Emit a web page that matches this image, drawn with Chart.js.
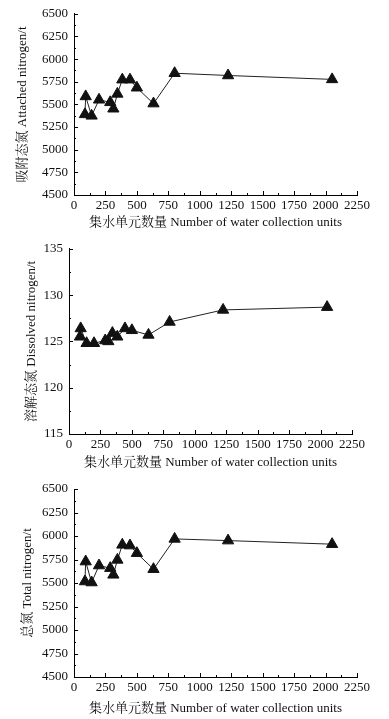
<!DOCTYPE html>
<html>
<head>
<meta charset="utf-8">
<script src="https://cdn.jsdelivr.net/npm/chart.js@4"></script>
<style>
  html, body { margin: 0; padding: 0; background: #fff; }
  canvas { display: block; }
</style>
</head>
<body>
<canvas id="c1" width="389" height="235"></canvas>
<canvas id="c2" width="389" height="240"></canvas>
<canvas id="c3" width="389" height="244"></canvas>
<script>
// number of water collection units (x)
const units = [87, 93, 140, 199, 288, 313, 345, 384, 445, 500, 632, 800, 1225, 2052];
// nitrogen loads, t
const attached = [5390, 5588, 5374, 5551, 5523, 5452, 5616, 5773, 5773, 5684, 5509, 5844, 5819, 5776];
const dissolved = [125.5, 126.4, 124.8, 124.8, 125.1, 125.0, 125.9, 125.5, 126.4, 126.2, 125.7, 127.1, 128.4, 128.7];
const total = [5516, 5728, 5505, 5686, 5658, 5587, 5746, 5906, 5898, 5817, 5647, 5969, 5951, 5913];

const xTicks = [0, 250, 500, 750, 1000, 1250, 1500, 1750, 2000, 2250];
const nTicks = [4500, 4750, 5000, 5250, 5500, 5750, 6000, 6250, 6500];
const dTicks = [115, 120, 125, 130, 135];

const FONT = "'Liberation Serif', 'Noto Serif CJK SC', 'Noto Sans CJK SC', serif";
const INK = "#111";
const X_TITLE = "集水单元数量 Number of water collection units";

// little inward ticks, major + minor, like the printed figure
const tickMarks = {
    id: "tickMarks",
    afterDraw(chart, args, opts) {
        const ctx = chart.ctx;
        const x = chart.scales.x;
        const y = chart.scales.y;
        ctx.save();
        ctx.strokeStyle = "#000";
        ctx.lineWidth = 1;
        ctx.beginPath();
        for (let v = x.min; v <= x.max + 1e-9; v += opts.xStep / 2) {
            const major = Math.abs(v / opts.xStep - Math.round(v / opts.xStep)) < 1e-6;
            const px = Math.round(x.getPixelForValue(v)) + 0.5;
            ctx.moveTo(px, y.bottom);
            ctx.lineTo(px, y.bottom - (major ? 4 : 2));
        }
        for (let v = y.min; v <= y.max + 1e-9; v += opts.yStep / 2) {
            const major = Math.abs((v - y.min) / opts.yStep - Math.round((v - y.min) / opts.yStep)) < 1e-6;
            const py = Math.round(y.getPixelForValue(v)) + 0.5;
            ctx.moveTo(x.left, py);
            ctx.lineTo(x.left + (major ? 4 : 2), py);
        }
        ctx.stroke();
        ctx.restore();
    }
};

function makeChart(id, values, yTicks, yTitle, box) {
    const ctx = document.getElementById(id).getContext("2d");
    return new Chart(ctx, {
        type: "line",
        data: {
            datasets: [{
                data: units.map((u, i) => ({ x: u, y: values[i] })),
                borderColor: "#222",
                borderWidth: 1,
                pointStyle: "triangle",
                pointRadius: 6.5,
                pointBackgroundColor: "#111",
                pointBorderColor: "#111",
                pointBorderWidth: 1,
                tension: 0
            }]
        },
        options: {
            responsive: false,
            animation: false,
            events: [],
            layout: { padding: { left: 0, top: box.top, right: 389 - box.right, bottom: 0 } },
            plugins: {
                legend: { display: false },
                tooltip: { enabled: false },
                tickMarks: { xStep: 250, yStep: yTicks[1] - yTicks[0] }
            },
            scales: {
                x: {
                    type: "linear",
                    min: xTicks[0],
                    max: xTicks[xTicks.length - 1],
                    afterBuildTicks: s => { s.ticks = xTicks.map(v => ({ value: v })); },
                    afterFit: s => { s.height = box.xh; },
                    grid: { display: true, drawOnChartArea: false, drawTicks: false },
                    border: { display: true, color: "#000", width: 1 },
                    ticks: {
                        autoSkip: false, maxRotation: 0, padding: 3, color: INK,
                        font: { family: FONT, size: 13 },
                        callback: v => String(v)
                    },
                    title: {
                        display: true, text: X_TITLE, color: INK,
                        font: { family: FONT, size: 13 },
                        padding: { top: 0, bottom: box.xtp }
                    }
                },
                y: {
                    type: "linear",
                    min: yTicks[0],
                    max: yTicks[yTicks.length - 1],
                    afterBuildTicks: s => { s.ticks = yTicks.map(v => ({ value: v })); },
                    afterFit: s => { s.width = box.left; },
                    grid: { display: true, drawOnChartArea: false, drawTicks: false },
                    border: { display: true, color: "#000", width: 1 },
                    ticks: {
                        padding: 6, color: INK,
                        font: { family: FONT, size: 13 },
                        callback: v => String(v)
                    },
                    title: {
                        display: true, text: yTitle, color: INK,
                        font: { family: FONT, size: 13 },
                        padding: { top: box.ytp, bottom: 0 }
                    }
                }
            }
        },
        plugins: [tickMarks]
    });
}

makeChart("c1", attached, nTicks, "吸附态氮 Attached nitrogen/t",
    { left: 74, right: 357, top: 8, xh: 40, xtp: 4.5, ytp: 15 });
makeChart("c2", dissolved, dTicks, "溶解态氮 Dissolved nitrogen/t",
    { left: 69, right: 352, top: 10, xh: 41, xtp: 4.5, ytp: 24 });
makeChart("c3", total, nTicks, "总氮 Total nitrogen/t",
    { left: 74, right: 357, top: 14, xh: 42, xtp: 3, ytp: 20 });
</script>
</body>
</html>
